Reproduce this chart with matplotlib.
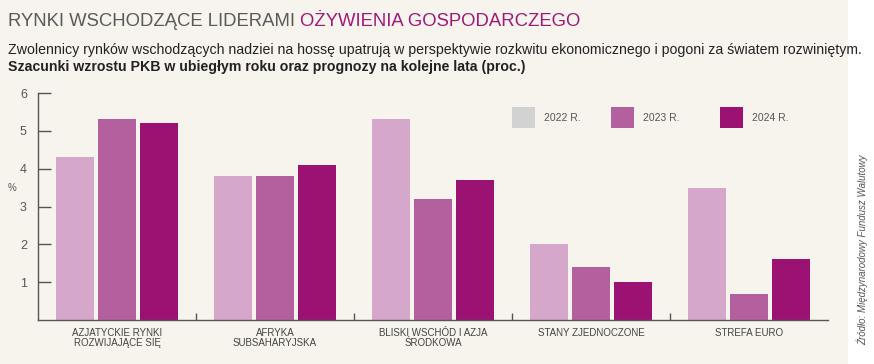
import numpy as np
import matplotlib.pyplot as plt
from matplotlib.patches import Rectangle

# data
categories = ['AZJATYCKIE RYNKI\nROZWIJAJĄCE SIĘ', 'AFRYKA\nSUBSAHARYJSKA',
              'BLISKI WSCHÓD I AZJA\nŚRODKOWA', 'STANY ZJEDNOCZONE', 'STREFA EURO']
years = ['2022 R.', '2023 R.', '2024 R.']
gdp_2022 = [4.3, 3.8, 5.3, 2.0, 3.5]
gdp_2023 = [5.3, 3.8, 3.2, 1.4, 0.7]
gdp_2024 = [5.2, 4.1, 3.7, 1.0, 1.6]

bar_colors = ['#d5a7ca', '#b5609e', '#9c1273']
legend_colors = ['#d2d2d2', '#b5609e', '#9c1273']
bg = '#f7f4ee'
font = ['Liberation Sans Narrow', 'Liberation Sans', 'DejaVu Sans']
plt.rcParams['font.family'] = font

fig = plt.figure(figsize=(8.74, 3.64), dpi=100)
fig.patch.set_facecolor(bg)
# white strip on the right for the source
fig.patches.append(Rectangle((848/874, 0), 1 - 848/874, 1, transform=fig.transFigure,
                             facecolor='white', edgecolor='none', zorder=0))

ax = fig.add_axes([38/874, 1 - 320/364, 790/874, 227/364])
ax.set_facecolor(bg)

x = np.arange(len(categories))
w = 0.245
step = 0.266
for i, vals in enumerate([gdp_2022, gdp_2023, gdp_2024]):
    ax.bar(x + (i - 1) * step, vals, width=w, color=bar_colors[i], zorder=2)

ax.set_xlim(-0.5, len(categories) - 0.5)
ax.set_ylim(0, 6)
for s in ['top', 'right']:
    ax.spines[s].set_visible(False)
for s in ['left', 'bottom']:
    ax.spines[s].set_color('#555555')
    ax.spines[s].set_linewidth(1.0)

ax.set_yticks([1, 2, 3, 4, 5, 6])
ax.tick_params(axis='y', direction='in', length=9, width=1, color='#555555',
               labelcolor='#555555', labelsize=9, pad=8)
ax.set_xticks(np.arange(0.5, len(categories) - 0.5, 1))
ax.set_xticklabels([])
ax.tick_params(axis='x', direction='in', length=5, width=1, color='#555555')
ax.set_ylabel('%', color='#555555', fontsize=7, rotation=0, labelpad=8)
ax.yaxis.set_label_coords(-0.033, 0.56)

for xi, lab in zip(x, categories):
    ax.text(xi, -0.2, lab, ha='center', va='top', fontsize=7, color='#444444',
            linespacing=1.05)

# legend boxes
leg_x = [512, 611, 720]
for lx, col, yr in zip(leg_x, legend_colors, years):
    fig.patches.append(Rectangle((lx/874, 1 - 128/364), 23/874, 21/364,
                                 transform=fig.transFigure, facecolor=col,
                                 edgecolor='none'))
    fig.text((lx + 32)/874, 1 - 118/364, yr, fontsize=7.5, color='#555555', va='center')

# title
t1 = fig.text(8/874, 1 - 21/364, 'RYNKI WSCHODZĄCE LIDERAMI ', fontsize=13.3,
              color='#5a5a5a', va='center')
fig.canvas.draw()
bb = t1.get_window_extent()
fig.text(bb.x1/874, 1 - 21/364, 'OŻYWIENIA GOSPODARCZEGO', fontsize=13.3,
         color='#a0197a', va='center')

fig.text(8/874, 1 - 50/364,
         'Zwolennicy rynków wschodzących nadziei na hossę upatrują w perspektywie '
         'rozkwitu ekonomicznego i pogoni za światem rozwiniętym.',
         fontsize=10.2, color='#222222', va='center')
fig.text(8/874, 1 - 67/364,
         'Szacunki wzrostu PKB w ubiegłym roku oraz prognozy na kolejne lata (proc.)',
         fontsize=10.2, color='#222222', va='center', fontweight='bold')

fig.text(862/874, 1 - 250/364, 'Źródło: Międzynarodowy Fundusz Walutowy',
         rotation=90, fontsize=7, color='#555555', style='italic',
         ha='center', va='center')

fig.savefig('out.png', dpi=100, facecolor=fig.get_facecolor())
